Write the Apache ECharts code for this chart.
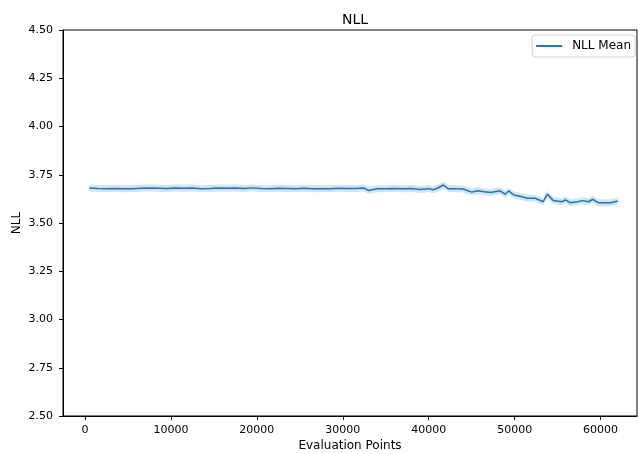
<!DOCTYPE html>
<html>
<head>
<meta charset="utf-8">
<script src="https://cdn.jsdelivr.net/npm/echarts@6/dist/echarts.min.js"></script>
<style>
    html, body { margin: 0; padding: 0; background: #fff; }
    #chart-nll { width: 638px; height: 454px; }
</style>
</head>
<body>
<div id="chart-nll"></div>
<script>
// Data
const evalPoints = [500, 1500, 2500, 3500, 4500, 5500, 6500, 7500, 8500, 9500,
    10500, 11500, 12500, 13500, 14500, 15500, 16500, 17500, 18500, 19500,
    20500, 21500, 22500, 23500, 24500, 25500, 26500, 27500, 28500, 29500,
    30500, 31500, 32500, 33000, 34000, 35000, 36000, 37000, 38000, 39000,
    40000, 40500, 41000, 41700, 42300, 43000, 44000, 45000, 45700, 46500,
    47200, 48300, 48900, 49300, 49900, 50500, 51500, 52400, 53300, 53800,
    54500, 55500, 55900, 56500, 57300, 57900, 58600, 59100, 59700, 60500,
    61200, 62000];
const nllMean = [3.681, 3.679, 3.678, 3.679, 3.677, 3.678, 3.680, 3.681, 3.680, 3.679,
    3.681, 3.680, 3.681, 3.678, 3.679, 3.681, 3.680, 3.681, 3.679, 3.682,
    3.679, 3.678, 3.680, 3.679, 3.678, 3.680, 3.677, 3.678, 3.678, 3.680,
    3.679, 3.679, 3.681, 3.668, 3.677, 3.678, 3.679, 3.677, 3.679, 3.674,
    3.678, 3.672, 3.680, 3.697, 3.677, 3.678, 3.676, 3.660, 3.667, 3.662,
    3.658, 3.667, 3.649, 3.666, 3.645, 3.640, 3.628, 3.628, 3.610, 3.649,
    3.616, 3.610, 3.620, 3.605, 3.610, 3.616, 3.610, 3.623, 3.605, 3.605,
    3.605, 3.614];
const nllSpread = 0.018;
const xTicks = [0, 10000, 20000, 30000, 40000, 50000, 60000];

const mean = evalPoints.map((x, i) => [x, nllMean[i]]);

// Shaded band drawn as one polygon through the axis scales
function renderBand(params, api) {
    if (params.dataIndex !== 0) return null;
    const upper = evalPoints.map((x, i) => api.coord([x, nllMean[i] + nllSpread]));
    const lower = evalPoints.map((x, i) => api.coord([x, nllMean[i] - nllSpread])).reverse();
    return {
        type: 'polygon',
        shape: { points: upper.concat(lower) },
        style: { fill: 'rgba(31,119,180,0.2)' }
    };
}

const font = 'DejaVu Sans';
const chart = echarts.init(document.getElementById('chart-nll'), null, { renderer: 'canvas' });
const option = {
    animation: false,
    backgroundColor: '#fff',
    textStyle: { fontFamily: font },
    title: {
        text: 'NLL',
        left: 350,
        top: 8,
        textAlign: 'center',
        textStyle: { fontFamily: font, fontSize: 14, fontWeight: 'normal', color: '#000' }
    },
    legend: {
        data: ['NLL Mean'],
        right: 3,
        top: 35,
        icon: 'rect',
        itemWidth: 26,
        itemHeight: 2,
        itemGap: 6,
        padding: [5, 4, 5, 4],
        borderColor: '#d0d0d0',
        borderWidth: 1,
        borderRadius: 3,
        backgroundColor: '#fff',
        textStyle: { fontFamily: font, fontSize: 12, color: '#000', padding: [0, 0, 0, 5] }
    },
    grid: {
        left: 63, right: 1, top: 30, bottom: 38,
        outerBoundsMode: 'none',
        containLabel: false,
        show: true, borderColor: '#000', borderWidth: 1
    },
    xAxis: {
        type: 'value',
        min: -2560,
        max: 64235,
        name: 'Evaluation Points',
        nameLocation: 'middle',
        nameGap: 24,
        nameMoveOverlap: false,
        nameTextStyle: { fontFamily: font, fontSize: 12, color: '#000' },
        splitLine: { show: false },
        axisLine: { show: true, onZero: false, lineStyle: { color: '#000', width: 1 } },
        axisTick: { show: true, customValues: xTicks, length: 4, lineStyle: { color: '#000' } },
        axisLabel: {
            customValues: xTicks, fontFamily: font, fontSize: 11, color: '#000', margin: 9,
            formatter: (v) => String(v)
        }
    },
    yAxis: {
        type: 'value',
        min: 2.5,
        max: 4.5,
        interval: 0.25,
        name: 'NLL',
        nameLocation: 'middle',
        nameGap: 40,
        nameMoveOverlap: false,
        nameTextStyle: { fontFamily: font, fontSize: 12, color: '#000' },
        splitLine: { show: false },
        axisLine: { show: true, onZero: false, lineStyle: { color: '#000', width: 1 } },
        axisTick: { show: true, length: 4, lineStyle: { color: '#000' } },
        axisLabel: {
            fontFamily: font, fontSize: 11, color: '#000', margin: 10,
            formatter: (v) => v.toFixed(2)
        }
    },
    series: [{
        name: 'band',
        type: 'custom',
        renderItem: renderBand,
        data: mean,
        silent: true,
        z: 1
    }, {
        name: 'NLL Mean',
        type: 'line',
        data: mean,
        symbol: 'none',
        color: '#1f77b4',
        lineStyle: { color: '#1f77b4', width: 1.5 },
        z: 2
    }]
};
chart.setOption(option);
</script>
</body>
</html>
